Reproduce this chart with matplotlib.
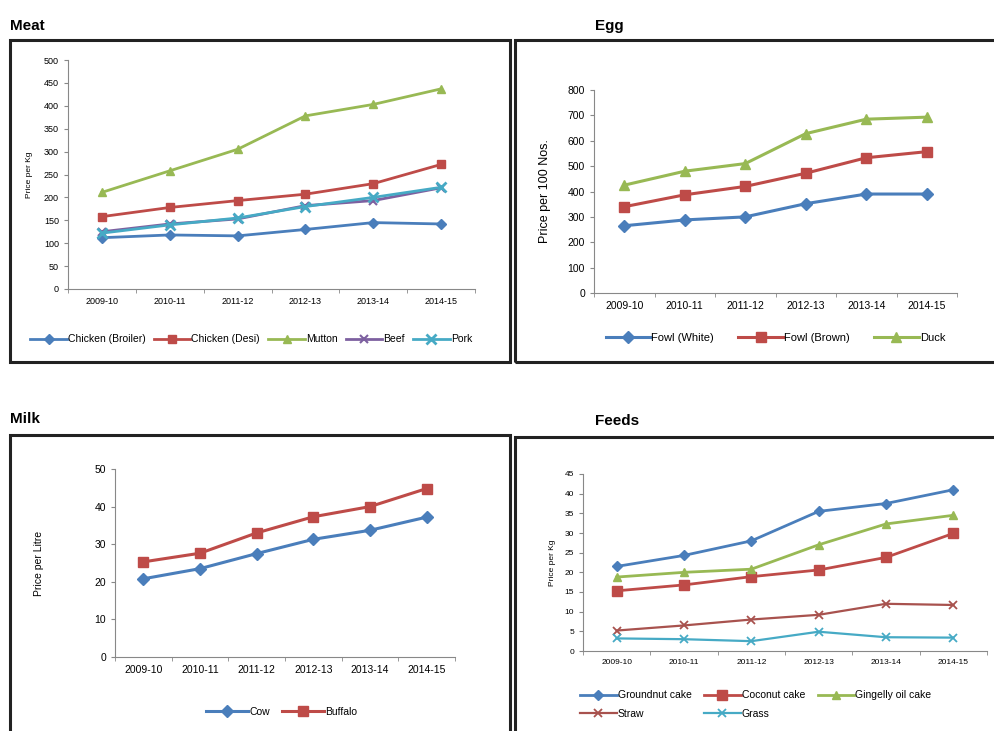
import matplotlib
matplotlib.use("Agg")
import matplotlib.pyplot as plt
from matplotlib.patches import Rectangle

plt.rcParams['font.family'] = ['Liberation Sans', 'DejaVu Sans']

years = ["2009-10", "2010-11", "2011-12", "2012-13", "2013-14", "2014-15"]

# Meat (price per kg)
meat_names = ["Chicken (Broiler)", "Chicken (Desi)", "Mutton", "Beef", "Pork"]
broiler = [112, 118, 116, 130, 145, 142]
desi = [158, 178, 193, 207, 230, 272]
mutton = [211, 258, 305, 378, 403, 437]
beef = [125, 142, 153, 182, 193, 221]
pork = [122, 140, 155, 180, 200, 222]

# Egg (price per 100 nos.)
egg_names = ["Fowl (White)", "Fowl (Brown)", "Duck"]
fowl_white = [265, 288, 300, 352, 390, 390]
fowl_brown = [340, 387, 420, 472, 533, 557]
duck = [425, 480, 510, 628, 685, 693]

# Milk (price per litre)
milk_names = ["Cow", "Buffalo"]
cow = [20.8, 23.5, 27.5, 31.3, 33.7, 37.2]
buffalo = [25.3, 27.6, 33.0, 37.3, 40.0, 44.8]

# Feeds (price per kg)
feed_names = ["Groundnut cake", "Coconut cake", "Gingelly oil cake", "Straw", "Grass"]
groundnut = [21.5, 24.3, 28.0, 35.5, 37.5, 41.0]
coconut = [15.3, 16.8, 18.9, 20.6, 23.8, 29.9]
gingelly = [18.8, 20.0, 20.8, 27.0, 32.3, 34.5]
straw = [5.2, 6.5, 8.0, 9.2, 12.0, 11.7]
grass = [3.2, 3.0, 2.5, 4.9, 3.5, 3.4]

BLUE = "#4A7EBB"
RED = "#BE4B48"
GREEN = "#98B954"
PURPLE = "#7D60A0"
CYAN = "#46AAC5"
BROWN = "#A8524E"

W, H = 994, 731
fig = plt.figure(figsize=(W / 100, H / 100), dpi=100)


def px_axes(x0, y0, x1, y1):
    # pixel box (top-left origin) -> figure axes
    return fig.add_axes([x0 / W, 1 - y1 / H, (x1 - x0) / W, (y1 - y0) / H])


def frame(x0, y0, x1, y1):
    fig.patches.append(Rectangle((x0 / W, 1 - y1 / H), (x1 - x0) / W, (y1 - y0) / H,
                                 transform=fig.transFigure, fill=False,
                                 edgecolor="#222222", linewidth=2.2))


def style(ax, ymax, step, fs):
    ax.set_xlim(-0.5, 5.5)
    ax.set_ylim(0, ymax)
    ax.set_yticks(range(0, ymax + 1, step))
    ax.set_xticks(range(6))
    ax.set_xticklabels(years, fontsize=fs)
    ax.tick_params(axis="y", labelsize=fs, length=3, color="#888888")
    ax.tick_params(axis="x", length=0, pad=6)
    ax.set_xticks([i - 0.5 for i in range(7)], minor=True)
    ax.tick_params(axis="x", which="minor", length=3, color="#888888")
    for s in ["top", "right"]:
        ax.spines[s].set_visible(False)
    for s in ["left", "bottom"]:
        ax.spines[s].set_color("#888888")
        ax.spines[s].set_linewidth(0.8)


x = range(len(years))

# ---- Meat ----
frame(10, 40, 510, 362)
fig.text(10 / W, 1 - 26 / H, "Meat", fontsize=11, fontweight="bold", va="center")
ax = px_axes(68, 60, 475, 289)
ax.plot(x, broiler, color=BLUE, lw=2, marker="D", ms=5, label=meat_names[0])
ax.plot(x, desi, color=RED, lw=2, marker="s", ms=6, label=meat_names[1])
ax.plot(x, mutton, color=GREEN, lw=2, marker="^", ms=6, label=meat_names[2])
ax.plot(x, beef, color=PURPLE, lw=2, marker="x", ms=6, mew=1.5, label=meat_names[3])
ax.plot(x, pork, color=CYAN, lw=2, marker="x", ms=7, mew=2, label=meat_names[4])
style(ax, 500, 50, 6.5)
ax.set_ylabel("Price per Kg", fontsize=6, labelpad=8)
ax.legend(loc="center", bbox_to_anchor=(0.45, -0.22), ncol=5, frameon=False,
          fontsize=7.5, handlelength=3.5, columnspacing=0.8, handletextpad=0.1)

# ---- Egg ----
frame(515, 40, 1000, 362)
fig.text(595 / W, 1 - 26 / H, "Egg", fontsize=11, fontweight="bold", va="center")
ax = px_axes(594, 90, 957, 293)
ax.plot(x, fowl_white, color=BLUE, lw=2.2, marker="D", ms=6, label=egg_names[0])
ax.plot(x, fowl_brown, color=RED, lw=2.2, marker="s", ms=7, label=egg_names[1])
ax.plot(x, duck, color=GREEN, lw=2.2, marker="^", ms=7, label=egg_names[2])
style(ax, 800, 100, 7.5)
ax.set_ylabel("Price per 100 Nos.", fontsize=9, labelpad=12)
ax.legend(loc="center", bbox_to_anchor=(0.5, -0.22), ncol=3, frameon=False,
          fontsize=8, handlelength=4, columnspacing=2.2, handletextpad=0.1)

# ---- Milk ----
frame(10, 435, 510, 740)
fig.text(10 / W, 1 - 419 / H, "Milk", fontsize=11, fontweight="bold", va="center")
ax = px_axes(115, 469, 455, 657)
ax.plot(x, cow, color=BLUE, lw=2.2, marker="D", ms=6, label=milk_names[0])
ax.plot(x, buffalo, color=RED, lw=2.2, marker="s", ms=7, label=milk_names[1])
style(ax, 50, 10, 7.5)
ax.set_ylabel("Price per Litre", fontsize=7.5, labelpad=36)
ax.legend(loc="center", bbox_to_anchor=(0.49, -0.29), ncol=2, frameon=False,
          fontsize=7.5, handlelength=4, columnspacing=1.2, handletextpad=0.1)

# ---- Feeds ----
frame(515, 437, 1000, 740)
fig.text(595 / W, 1 - 421 / H, "Feeds", fontsize=11, fontweight="bold", va="center")
ax = px_axes(583, 474, 987, 651)
l1, = ax.plot(x, groundnut, color=BLUE, lw=2, marker="D", ms=5, label=feed_names[0])
l2, = ax.plot(x, coconut, color=RED, lw=2, marker="s", ms=6.5, label=feed_names[1])
l3, = ax.plot(x, gingelly, color=GREEN, lw=2, marker="^", ms=6, label=feed_names[2])
l4, = ax.plot(x, straw, color=BROWN, lw=1.6, marker="x", ms=6, mew=1.3, label=feed_names[3])
l5, = ax.plot(x, grass, color=CYAN, lw=1.6, marker="x", ms=6, mew=1.3, label=feed_names[4])
style(ax, 45, 5, 6)
ax.set_ylabel("Price per Kg", fontsize=6, labelpad=6)
# legend filled row by row like the original
hs = [l1, l4, l2, l5, l3]
ax.legend(hs, [h.get_label() for h in hs], loc="upper left",
          bbox_to_anchor=(-0.03, -0.17), ncol=3, frameon=False,
          fontsize=7.5, handlelength=3.5, columnspacing=1.2, handletextpad=0.1,
          labelspacing=0.8)

fig.savefig("out.png", dpi=100)
